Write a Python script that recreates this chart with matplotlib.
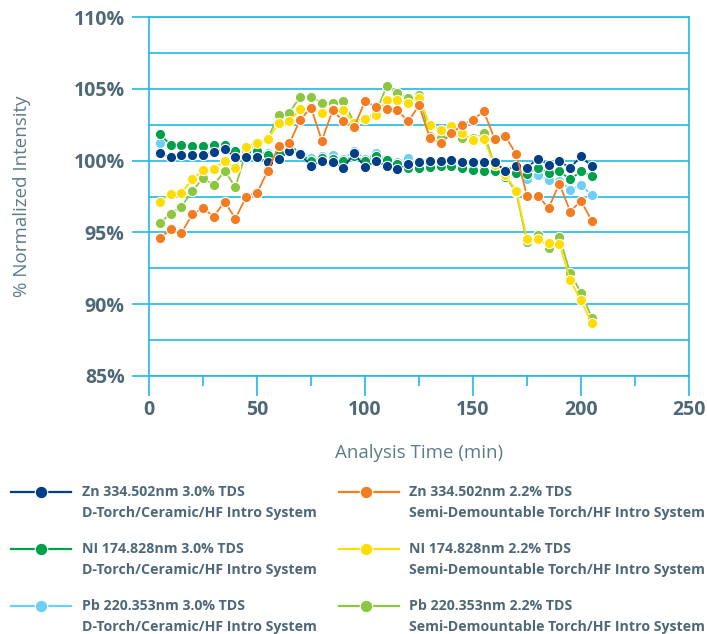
import matplotlib
matplotlib.use("Agg")
import matplotlib.pyplot as plt
from matplotlib.lines import Line2D
from matplotlib.ticker import MultipleLocator, FuncFormatter

plt.rcParams['font.family'] = ['Open Sans', 'DejaVu Sans']

time_min = [5, 10, 15, 20, 25, 30, 35, 40, 45, 50,
            55, 60, 65, 70, 75, 80, 85, 90, 95, 100,
            105, 110, 115, 120, 125, 130, 135, 140, 145, 150,
            155, 160, 165, 170, 175, 180, 185, 190, 195, 200, 205]

zn_30 = [100.5, 100.25, 100.4, 100.4, 100.4, 100.6, 100.8, 100.25, 100.25, 100.25,
         99.9, 100.1, 100.7, 100.45, 99.65, 99.95, 99.9, 99.5, 100.5, 99.55,
         99.95, 99.65, 99.4, 99.75, 99.9, 99.95, 99.95, 100.05, 99.9, 99.9,
         99.9, 99.9, 99.3, 99.65, 99.5, 100.15, 99.7, 99.95, 99.5, 100.3, 99.6]

ni_30 = [101.85, 101.1, 101.1, 101.05, 101.05, 101.1, 101.1, 100.65, 100.7, 100.7,
         100.4, 100.5, 101.1, 100.5, 99.95, 100.2, 100.1, 100.0, 100.3, 99.95,
         100.3, 100.05, 99.75, 99.5, 99.5, 99.55, 99.6, 99.6, 99.5, 99.35,
         99.25, 99.25, 98.85, 99.15, 99.05, 99.5, 99.15, 99.25, 98.7, 99.25, 98.95]

pb_30 = [101.2, 101.0, 101.0, 101.0, 101.0, 101.0, 101.0, 100.75, 100.8, 100.8,
         100.5, 100.6, 101.0, 100.6, 100.2, 100.3, 100.4, 100.15, 100.65, 100.15,
         100.5, 100.15, 99.9, 100.2, 99.95, 99.75, 99.8, 99.75, 99.65, 99.5,
         99.4, 99.4, 99.0, 99.25, 98.75, 99.0, 98.65, 98.6, 97.97, 98.3, 97.6]

zn_22 = [94.6, 95.2, 94.95, 96.25, 96.7, 96.1, 97.15, 95.95, 97.5, 97.75,
         99.3, 101.0, 101.2, 102.85, 103.7, 101.4, 103.5, 102.75, 102.35, 104.15,
         103.75, 103.6, 103.5, 102.75, 103.85, 101.6, 101.2, 101.9, 102.5, 102.85,
         103.45, 101.5, 101.7, 100.45, 97.55, 97.55, 96.7, 98.4, 96.45, 97.2, 95.8]

ni_22 = [97.15, 97.7, 97.75, 98.7, 99.35, 99.45, 99.95, 99.5, 100.95, 101.25,
         101.5, 102.6, 102.75, 103.6, 103.65, 103.35, 103.6, 103.5, 102.6, 102.9,
         103.2, 104.2, 104.2, 104.05, 104.35, 102.5, 102.15, 102.45, 101.9, 101.45,
         101.5, 99.7, 99.0, 97.9, 94.55, 94.55, 94.25, 94.2, 91.65, 90.25, 88.65]

pb_22 = [95.65, 96.3, 96.8, 97.85, 98.8, 98.3, 99.3, 98.15, 100.65, 101.2,
         101.55, 103.2, 103.35, 104.45, 104.45, 104.05, 104.05, 104.15, 102.65, 103.0,
         103.3, 105.2, 104.7, 104.35, 104.6, 101.7, 101.55, 101.9, 101.55, 101.55,
         101.9, 99.7, 98.9, 97.8, 94.3, 94.8, 93.9, 94.7, 92.15, 90.8, 89.05]

labels_top = ["Zn 334.502nm 3.0% TDS", "Zn 334.502nm 2.2% TDS",
              "NI 174.828nm 3.0% TDS", "NI 174.828nm 2.2% TDS",
              "Pb 220.353nm 3.0% TDS", "Pb 220.353nm 2.2% TDS"]
labels_bottom = ["D-Torch/Ceramic/HF Intro System",
                 "Semi-Demountable Torch/HF Intro System"]

C_BLUE = '#003F87'
C_ORANGE = '#F47C20'
C_GREEN = '#00A04B'
C_YELLOW = '#FFDD00'
C_LTBLUE = '#6CCFF6'
C_LIME = '#8DC63F'
C_AX = '#1DB9E7'
C_TXT = '#4E6878'
C_LBL = '#5E7B8A'

series = [
    # (values, color, zorder, legend row, legend col)
    (pb_30, C_LTBLUE, 3, 2, 0),
    (pb_22, C_LIME, 3, 2, 1),
    (ni_30, C_GREEN, 4, 1, 0),
    (ni_22, C_YELLOW, 4, 1, 1),
    (zn_30, C_BLUE, 5, 0, 0),
    (zn_22, C_ORANGE, 5, 0, 1),
]

W, H = 707, 634
fig = plt.figure(figsize=(W / 100, H / 100), dpi=100)
ax = fig.add_axes([149 / W, (H - 375.7) / H, 540 / W, 358.4 / H])

for vals, col, z, r, c in series:
    ax.plot(time_min, vals, color=col, lw=1.3, marker='o', ms=7.4,
            mfc=col, mec='white', mew=0.8, zorder=z, clip_on=False)

ax.set_xlim(0, 250)
ax.set_ylim(85, 110)
ax.xaxis.set_major_locator(MultipleLocator(50))
ax.xaxis.set_minor_locator(MultipleLocator(25))
ax.yaxis.set_major_locator(MultipleLocator(5))
ax.yaxis.set_minor_locator(MultipleLocator(2.5))
ax.yaxis.set_major_formatter(FuncFormatter(lambda v, p: f"{v:.0f}%"))

ax.grid(True, axis='y', which='both', color=C_AX, lw=1.2, zorder=1)
ax.set_axisbelow(True)
for s in ['left', 'right', 'bottom', 'top']:
    ax.spines[s].set_color(C_AX)
    ax.spines[s].set_linewidth(1.2)

ax.tick_params(axis='y', which='major', direction='out', length=12.5, width=1.2,
               color=C_AX, pad=5, labelsize=14, labelcolor=C_TXT)
ax.tick_params(axis='y', which='minor', length=0)
ax.tick_params(axis='x', which='major', direction='out', length=14.5, width=1.2,
               color=C_AX, pad=3, labelsize=14, labelcolor=C_TXT)
ax.tick_params(axis='x', which='minor', direction='out', length=7.2, width=1.2,
               color=C_AX)
for lab in ax.get_xticklabels() + ax.get_yticklabels():
    lab.set_fontweight('bold')

ax.set_xlabel("Analysis Time (min)", fontsize=13.5, color=C_LBL)
ax.xaxis.set_label_coords(0.5, -0.19)
ax.xaxis.label.set_va('top')
ax.set_ylabel("% Normalized Intensity", fontsize=13.5, color=C_LBL)
ax.yaxis.set_label_coords(-0.218, 0.5)

# legend (manual, two columns, two-line labels)
col_marker_x = [41, 366]
col_line = [(11, 71), (339, 399)]
col_text_x = [82, 409]
row_y1 = [492, 549, 606]
row_y2 = [513, 570, 627]

def fx(x):
    return x / W

def fy(y):
    return (H - y) / H

for vals, col, z, r, c in series:
    x0, x1 = col_line[c]
    fig.add_artist(Line2D([fx(x0), fx(x1)], [fy(row_y1[r])] * 2,
                          transform=fig.transFigure, color=col, lw=1.6))
    fig.add_artist(Line2D([fx(col_marker_x[c])], [fy(row_y1[r])],
                          transform=fig.transFigure, color=col, marker='o',
                          ms=9, mfc=col, mec='white', mew=0.8, lw=0))
    fig.text(fx(col_text_x[c]), fy(row_y1[r]), labels_top[r * 2 + c],
             ha='left', va='center', fontsize=10.2, fontweight='bold', color=C_TXT)
    fig.text(fx(col_text_x[c]), fy(row_y2[r]), labels_bottom[c],
             ha='left', va='center', fontsize=10.2, fontweight='bold', color=C_TXT)

fig.savefig("out.png", dpi=100)
